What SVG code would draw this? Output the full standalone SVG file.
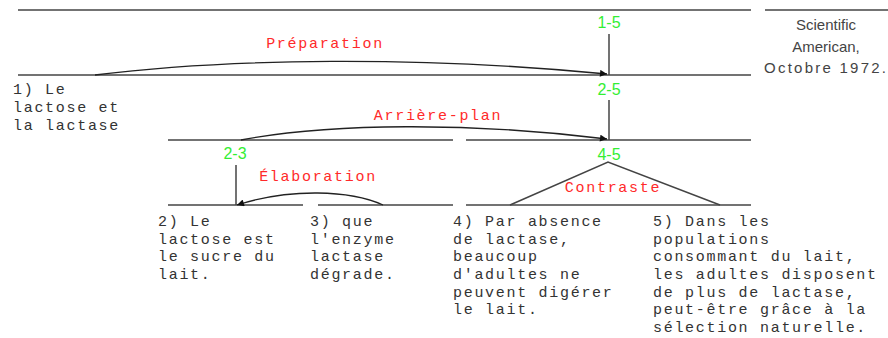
<svg xmlns="http://www.w3.org/2000/svg" width="888" height="338" viewBox="0 0 888 338">
<style>
.ln{stroke:#444;stroke-width:1.5;fill:none}
.arc{stroke:#222;stroke-width:1.3;fill:none}
.txt{font-family:"Liberation Mono","Courier New",monospace;font-size:15px;letter-spacing:1.7px;fill:#333}
.rel{font-family:"Liberation Mono","Courier New",monospace;font-size:15px;letter-spacing:1.7px;fill:#ff2a2a;text-anchor:middle}
.num{font-family:"Liberation Sans",Arial,sans-serif;font-size:16px;fill:#33ee33;text-anchor:middle}
.src{font-family:"Liberation Sans",Arial,sans-serif;font-size:15px;fill:#444;text-anchor:middle}
</style>
<defs>
<marker id="ah" viewBox="0 0 10 10" refX="10" refY="5" markerWidth="9" markerHeight="7" markerUnits="userSpaceOnUse" orient="auto">
<path d="M0,0 L10,5 L0,10 z" fill="#111"/>
</marker>
</defs>
<g id="frame">
<line class="ln" x1="18" y1="10" x2="751" y2="10"/>
<line class="ln" x1="765" y1="10" x2="888" y2="10"/>
</g>
<g id="source">
<text class="src" x="826" y="30">Scientific</text>
<text class="src" x="826" y="52">American,</text>
<text class="src" x="825" y="73" textLength="122" lengthAdjust="spacing">Octobre 1972.</text>
</g>
<g id="n15">
<text class="num" x="609" y="28">1-5</text>
<line class="ln" x1="609" y1="34" x2="609" y2="75"/>
<line class="ln" x1="18" y1="75" x2="751" y2="75"/>
</g>
<g id="n1">
<text class="txt" x="13" y="94">1) Le</text>
<text class="txt" x="13" y="112">lactose et</text>
<text class="txt" x="13" y="130">la lactase</text>
</g>
<g id="n25">
<text class="num" x="609" y="95">2-5</text>
<line class="ln" x1="609" y1="100" x2="609" y2="140"/>
<line class="ln" x1="168" y1="140" x2="453" y2="140"/>
<line class="ln" x1="466" y1="140" x2="751" y2="140"/>
</g>
<g id="n23">
<text class="num" x="235" y="159">2-3</text>
<line class="ln" x1="236" y1="165" x2="236" y2="205"/>
<line class="ln" x1="168" y1="205" x2="303" y2="205"/>
<line class="ln" x1="318" y1="205" x2="453" y2="205"/>
</g>
<g id="n45">
<text class="num" x="609" y="160">4-5</text>
<line class="ln" x1="466" y1="205" x2="751" y2="205"/>
<polyline class="ln" points="510,205 608,162 720,205"/>
</g>
<g id="n2">
<text class="txt" x="158" y="226">2) Le</text>
<text class="txt" x="158" y="244">lactose est</text>
<text class="txt" x="158" y="261">le sucre du</text>
<text class="txt" x="158" y="279">lait.</text>
</g>
<g id="n3">
<text class="txt" x="310" y="226">3) que</text>
<text class="txt" x="310" y="244">l'enzyme</text>
<text class="txt" x="310" y="261">lactase</text>
<text class="txt" x="310" y="279">dégrade.</text>
</g>
<g id="n4">
<text class="txt" x="453" y="226">4) Par absence</text>
<text class="txt" x="453" y="244">de lactase,</text>
<text class="txt" x="453" y="261">beaucoup</text>
<text class="txt" x="453" y="279">d'adultes ne</text>
<text class="txt" x="453" y="297">peuvent digérer</text>
<text class="txt" x="453" y="314">le lait.</text>
</g>
<g id="n5">
<text class="txt" x="653" y="226">5) Dans les</text>
<text class="txt" x="653" y="244">populations</text>
<text class="txt" x="653" y="261">consommant du lait,</text>
<text class="txt" x="653" y="279">les adultes disposent</text>
<text class="txt" x="653" y="297">de plus de lactase,</text>
<text class="txt" x="653" y="314">peut-être grâce à la</text>
<text class="txt" x="653" y="332">sélection naturelle.</text>
</g>
<g id="connectors">
<path class="arc" d="M95,75 C230,58 420,56 607,74" marker-end="url(#ah)"/>
<path class="arc" d="M241,140 C330,123 470,122 607,139" marker-end="url(#ah)"/>
<path class="arc" d="M383,205 C350,190 290,188 237,205" marker-end="url(#ah)"/>
</g>
<g id="labels">
<text class="rel" x="325" y="48">Préparation</text>
<text class="rel" x="438" y="120">Arrière-plan</text>
<text class="rel" x="318" y="181">Élaboration</text>
<text class="rel" x="613" y="192">Contraste</text>
</g>
</svg>
